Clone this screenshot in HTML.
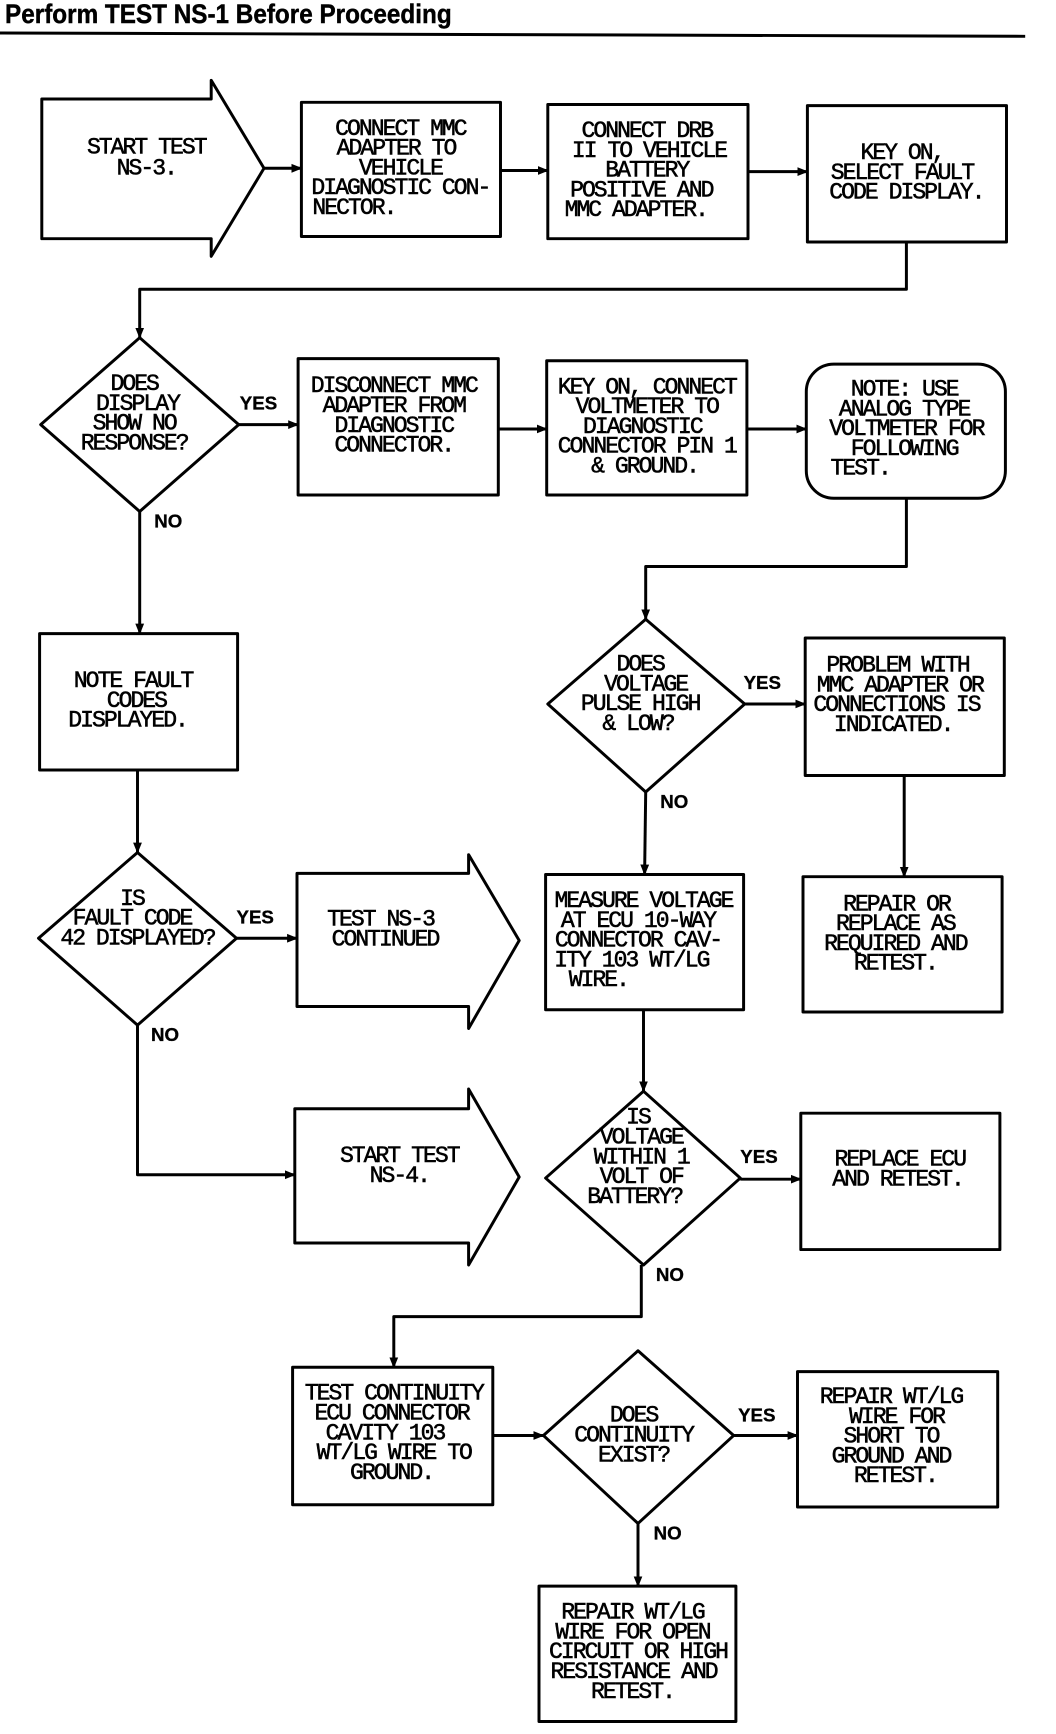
<!DOCTYPE html>
<html><head><meta charset="utf-8"><style>
html,body{margin:0;padding:0;background:#fff;}
svg{display:block;}
text{font-family:"Liberation Mono",monospace;font-size:21px;letter-spacing:-1.8px;fill:#000;stroke:#000;stroke-width:0.5;text-anchor:middle;dominant-baseline:middle;}
.l{text-anchor:start;}
.h{font-family:"Liberation Sans",sans-serif;font-weight:bold;font-size:24px;letter-spacing:0;stroke-width:0.4;text-anchor:start;dominant-baseline:alphabetic;}
.s{fill:none;stroke:#000;stroke-width:2.7;stroke-linejoin:round;}
.lab{font-family:"Liberation Sans",sans-serif;font-weight:bold;font-size:17px;letter-spacing:0;stroke-width:0.3;}
</style></head><body>
<svg width="1056" height="1734" viewBox="0 0 960 1576.4" preserveAspectRatio="none" xmlns="http://www.w3.org/2000/svg">
<defs><marker id="a" markerWidth="10" markerHeight="10" refX="9" refY="5" orient="auto" markerUnits="userSpaceOnUse"><path d="M0,1 L10,5 L0,9 Z" fill="#000"/></marker></defs>
<text class="h" x="5" y="21" transform="scale(0.92,1)">Perform TEST NS-1 Before Proceeding</text>
<line x1="0" y1="30" x2="932" y2="33" stroke="#000" stroke-width="2.7"/>

<g class="s">
<path d="M38,90 H192 V73 L240,153 L192,233 V217 H38 Z"/>
<rect x="274" y="93" width="181" height="122"/>
<rect x="498" y="95" width="182" height="122"/>
<rect x="734" y="96" width="181" height="124"/>
<path d="M127,307 L217,386 L127,465 L37,386 Z"/>
<rect x="271" y="326" width="182" height="124"/>
<rect x="497" y="328" width="182" height="122"/>
<rect x="733" y="331" width="181" height="122" rx="25"/>
<rect x="36" y="576" width="180" height="124"/>
<path d="M587,563 L677,640 L587,720 L498,640 Z"/>
<rect x="732" y="580" width="181" height="125"/>
<path d="M125,775 L215,853 L125,932 L35,853 Z"/>
<path d="M270,794 H426 V777 L472,855 L426,935 V915 H270 Z"/>
<rect x="496" y="795" width="180" height="123"/>
<rect x="730" y="797" width="181" height="123"/>
<path d="M268,1008 H426 V990 L472,1070 L426,1150 V1130 H268 Z"/>
<path d="M585,992 L673,1071 L585,1150 L496,1071 Z"/>
<rect x="728" y="1012" width="181" height="124"/>
<rect x="266" y="1243" width="182" height="125"/>
<path d="M580,1228 L667,1305 L580,1385 L494,1305 Z"/>
<rect x="725" y="1247" width="182" height="123"/>
<rect x="490" y="1442" width="179" height="123"/>
</g>

<g class="s" marker-end="url(#a)">
<line x1="240" y1="153" x2="274" y2="153"/>
<line x1="455" y1="155" x2="498" y2="155"/>
<line x1="680" y1="156" x2="734" y2="156"/>
<polyline points="824,220 824,263 127,263 127,307"/>
<line x1="217" y1="386" x2="271" y2="386"/>
<line x1="453" y1="390" x2="497" y2="390"/>
<line x1="679" y1="390" x2="733" y2="390"/>
<polyline points="824,453 824,515 587,515 587,563"/>
<line x1="127" y1="465" x2="127" y2="576"/>
<line x1="677" y1="640" x2="732" y2="640"/>
<line x1="587" y1="720" x2="586" y2="795"/>
<line x1="822" y1="705" x2="822" y2="797"/>
<line x1="125" y1="700" x2="125" y2="775"/>
<line x1="215" y1="853" x2="270" y2="853"/>
<polyline points="125,932 125,1068 268,1068"/>
<line x1="585" y1="918" x2="585" y2="992"/>
<line x1="673" y1="1072" x2="728" y2="1072"/>
<polyline points="583,1150 583,1197 358,1197 358,1243"/>
<line x1="448" y1="1305" x2="494" y2="1305"/>
<line x1="667" y1="1305" x2="725" y2="1305"/>
<line x1="580" y1="1385" x2="580" y2="1442"/>
</g>

<text x="133" y="134">START TEST</text><text x="133" y="153">NS-3.</text>
<text x="364" y="117">CONNECT MMC</text><text x="360" y="135">ADAPTER TO</text><text x="364" y="153">VEHICLE</text><text x="364" y="171">DIAGNOSTIC CON-</text><text class="l" x="284" y="189">NECTOR.</text>
<text x="588" y="119">CONNECT DRB</text><text x="590" y="137">II TO VEHICLE</text><text x="588" y="155">BATTERY</text><text x="583" y="173">POSITIVE AND</text><text x="578" y="191">MMC ADAPTER.</text>
<text x="820" y="139">KEY ON,</text><text x="820" y="157">SELECT FAULT</text><text x="824" y="175">CODE DISPLAY.</text>

<text x="122" y="349">DOES</text><text x="125" y="367">DISPLAY</text><text x="122" y="385">SHOW NO</text><text x="122" y="403">RESPONSE?</text>
<text class="lab" x="235" y="368">YES</text>
<text x="358" y="351">DISCONNECT MMC</text><text x="358" y="369">ADAPTER FROM</text><text x="358" y="387">DIAGNOSTIC</text><text x="358" y="405">CONNECTOR.</text>
<text x="588" y="352">KEY ON, CONNECT</text><text x="588" y="370">VOLTMETER TO</text><text x="584" y="388">DIAGNOSTIC</text><text x="588" y="406">CONNECTOR PIN 1</text><text x="586" y="424">&amp; GROUND.</text>
<text x="822" y="354">NOTE: USE</text><text x="822" y="372">ANALOG TYPE</text><text x="824" y="390">VOLTMETER FOR</text><text x="822" y="408">FOLLOWING</text><text class="l" x="755" y="426">TEST.</text>
<text class="lab" x="153" y="475">NO</text>

<text x="121" y="619">NOTE FAULT</text><text x="124" y="637">CODES</text><text x="116" y="655">DISPLAYED.</text>
<text x="582" y="604">DOES</text><text x="587" y="622">VOLTAGE</text><text x="582" y="640">PULSE HIGH</text><text x="580" y="658">&amp; LOW?</text>
<text class="lab" x="693" y="622">YES</text>
<text x="816" y="605">PROBLEM WITH</text><text x="818" y="623">MMC ADAPTER OR</text><text x="815" y="641">CONNECTIONS IS</text><text x="812" y="659">INDICATED.</text>
<text class="lab" x="613" y="730">NO</text>

<text x="120" y="817">IS</text><text x="120" y="835">FAULT CODE</text><text x="125" y="853">42 DISPLAYED?</text>
<text class="lab" x="232" y="835">YES</text>
<text x="346" y="836">TEST NS-3</text><text x="350" y="854">CONTINUED</text>
<text x="585" y="819">MEASURE VOLTAGE</text><text x="580" y="837">AT ECU 10-WAY</text><text x="580" y="855">CONNECTOR CAV-</text><text x="574" y="873">ITY 103 WT/LG</text><text class="l" x="517" y="891">WIRE.</text>
<text x="815" y="822">REPAIR OR</text><text x="814" y="840">REPLACE AS</text><text x="814" y="858">REQUIRED AND</text><text x="814" y="876">RETEST.</text>
<text class="lab" x="150" y="942">NO</text>

<text x="363" y="1051">START TEST</text><text x="363" y="1069">NS-4.</text>
<text x="580" y="1016">IS</text><text x="583" y="1034">VOLTAGE</text><text x="583" y="1052">WITHIN 1</text><text x="583" y="1070">VOLT OF</text><text x="577" y="1088">BATTERY?</text>
<text class="lab" x="690" y="1053">YES</text>
<text x="818" y="1054">REPLACE ECU</text><text x="816" y="1072">AND RETEST.</text>
<text class="lab" x="609" y="1160">NO</text>

<text x="358" y="1267">TEST CONTINUITY</text><text x="356" y="1285">ECU CONNECTOR</text><text x="350" y="1303">CAVITY 103</text><text x="358" y="1321">WT/LG WIRE TO</text><text x="356" y="1339">GROUND.</text>
<text x="576" y="1287">DOES</text><text x="576" y="1305">CONTINUITY</text><text x="576" y="1323">EXIST?</text>
<text class="lab" x="688" y="1288">YES</text>
<text x="810" y="1270">REPAIR WT/LG</text><text x="815" y="1288">WIRE FOR</text><text x="810" y="1306">SHORT TO</text><text x="810" y="1324">GROUND AND</text><text x="814" y="1342">RETEST.</text>
<text class="lab" x="607" y="1395">NO</text>
<text x="575" y="1466">REPAIR WT/LG</text><text x="575" y="1484">WIRE FOR OPEN</text><text x="580" y="1502">CIRCUIT OR HIGH</text><text x="576" y="1520">RESISTANCE AND</text><text x="575" y="1538">RETEST.</text>
</svg>
</body></html>
